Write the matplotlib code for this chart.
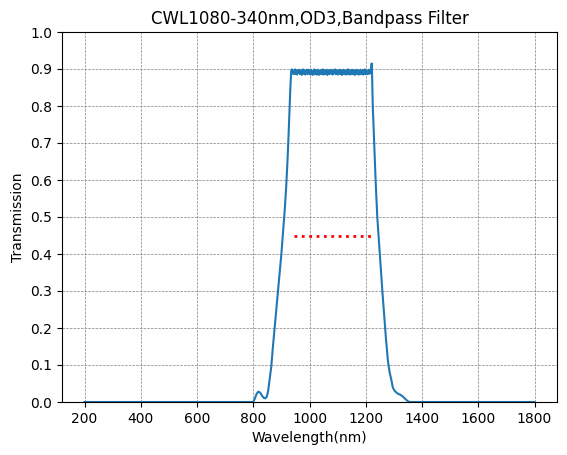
import numpy as np
import matplotlib.pyplot as plt

# rising edge (nm, transmission)
rise_wl = [200, 800, 805, 812, 818, 825, 832, 838, 843, 848, 853, 858, 864, 870,
           876, 882, 888, 894, 900, 906, 912, 917, 921, 925, 929, 932, 935]
rise_t = [0, 0, 0.008, 0.022, 0.028, 0.025, 0.016, 0.011, 0.010, 0.014, 0.03, 0.06,
          0.095, 0.15, 0.20, 0.25, 0.30, 0.35, 0.40, 0.46, 0.52, 0.58, 0.64,
          0.71, 0.79, 0.85, 0.895]

# noisy top of the passband, 937..1219 nm in 2 nm steps
top_start, top_step = 937, 2
top_t = [0.899, 0.890, 0.897, 0.886, 0.895, 0.888, 0.899, 0.887, 0.894, 0.885,
         0.897, 0.889, 0.893, 0.898, 0.886, 0.895, 0.888, 0.897, 0.884, 0.894,
         0.899, 0.887, 0.892, 0.897, 0.885, 0.894, 0.889, 0.898, 0.886, 0.893,
         0.898, 0.887, 0.895, 0.885, 0.898, 0.890, 0.894, 0.884, 0.896, 0.888,
         0.899, 0.886, 0.893, 0.897, 0.885, 0.895, 0.887, 0.898, 0.884, 0.894,
         0.890, 0.897, 0.886, 0.895, 0.887, 0.899, 0.885, 0.893, 0.897, 0.886,
         0.894, 0.889, 0.898, 0.884, 0.895, 0.887, 0.897, 0.886, 0.894, 0.890,
         0.898, 0.887, 0.895, 0.885, 0.897, 0.889, 0.893, 0.899, 0.886, 0.894,
         0.888, 0.897, 0.885, 0.895, 0.890, 0.898, 0.886, 0.893, 0.897, 0.884,
         0.895, 0.888, 0.898, 0.886, 0.894, 0.889, 0.897, 0.885, 0.896, 0.887,
         0.899, 0.886, 0.893, 0.897, 0.885, 0.894, 0.889, 0.898, 0.886, 0.895,
         0.888, 0.897, 0.884, 0.894, 0.890, 0.898, 0.886, 0.893, 0.896, 0.885,
         0.895, 0.888, 0.898, 0.886, 0.894, 0.889, 0.897, 0.885, 0.896, 0.887,
         0.899, 0.886, 0.894, 0.897, 0.886, 0.895, 0.888, 0.898, 0.887, 0.895,
         0.891, 0.897]

# falling edge
fall_wl = [1221, 1222, 1225, 1230, 1235, 1241, 1250, 1259, 1265, 1272, 1279, 1285,
           1291, 1296, 1301, 1307, 1315, 1322, 1330, 1338, 1345, 1352, 1360, 1800]
fall_t = [0.915, 0.90, 0.80, 0.70, 0.60, 0.50, 0.40, 0.30, 0.24, 0.17, 0.11, 0.08,
          0.06, 0.04, 0.032, 0.027, 0.022, 0.02, 0.016, 0.01, 0.005, 0.001, 0, 0]

# half-maximum marker
half_wl = [945, 1220]
half_t = [0.45, 0.45]

top_wl = [top_start + top_step * i for i in range(len(top_t))]
wl = rise_wl + top_wl + fall_wl
t = rise_t + top_t + fall_t

fig = plt.figure(figsize=(5.67, 4.55), dpi=100)
ax = fig.add_axes([62 / 567, 53 / 455, 495 / 567, 370 / 455])
ax.plot(wl, t, color='#1f77b4', linewidth=1.5)
ax.plot(half_wl, half_t, color='red', linestyle=':', linewidth=2)

ax.set_ylim(0, 1)
ax.set_yticks(np.arange(0, 1.01, 0.1))
ax.set_xticks(range(200, 1801, 200))
ax.grid(True, linestyle='--', color='gray', linewidth=0.5)
ax.set_title('CWL1080-340nm,OD3,Bandpass Filter')
ax.set_xlabel('Wavelength(nm)')
ax.set_ylabel('Transmission')

fig.savefig('out.png', dpi=100)
